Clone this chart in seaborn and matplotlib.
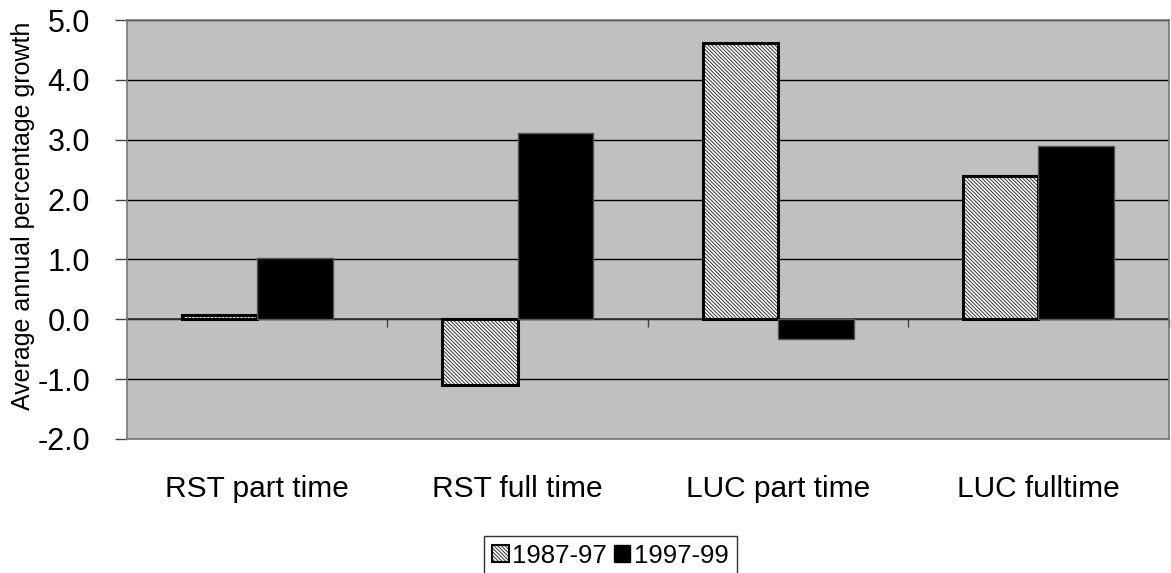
import matplotlib
matplotlib.use("Agg")
import matplotlib.pyplot as plt
from matplotlib.patches import Patch
import seaborn as sns
import pandas as pd

categories = ["RST part time", "RST full time", "LUC part time", "LUC fulltime"]
series_names = ["1987-97", "1997-99"]
values_1987_97 = [0.07, -1.10, 4.61, 2.40]
values_1997_99 = [1.03, 3.11, -0.33, 2.89]
y_ticks = [-2.0, -1.0, 0.0, 1.0, 2.0, 3.0, 4.0, 5.0]

df = pd.DataFrame({
    "category": categories * 2,
    "period": [series_names[0]] * 4 + [series_names[1]] * 4,
    "value": values_1987_97 + values_1997_99,
})

sns.set_style("white")
plt.rcParams["font.family"] = ["Liberation Sans", "DejaVu Sans"]
plt.rcParams["hatch.linewidth"] = 0.5
plt.rcParams["hatch.color"] = "#8c8c8c"
plt.rcParams["text.color"] = "black"
plt.rcParams["xtick.color"] = "black"
plt.rcParams["ytick.color"] = "black"
plt.rcParams["axes.labelcolor"] = "black"

HATCH = "\\" * 9
HATCH_COLOR = "#8c8c8c"
FACE_1 = "#f2f2f2"

fig = plt.figure(figsize=(11.71, 5.73), dpi=100)
ax = fig.add_axes([0.1085, 0.234, 0.8895, 0.731])
ax.set_facecolor("#c0c0c0")

sns.barplot(data=df, x="category", y="value", hue="period", order=categories,
            hue_order=series_names, palette=[FACE_1, "#000000"],
            width=0.58, saturation=1, legend=False, ax=ax, zorder=3)

n = len(categories)
for i, p in enumerate(ax.patches):
    if i < n:
        p.set_hatch(HATCH)
        p.set_edgecolor("#000000")
        p.set_linewidth(2.2)
        try:
            p.set_hatchcolor(HATCH_COLOR)
        except Exception:
            pass
    else:
        p.set_edgecolor("#555555")
        p.set_linewidth(1.0)

ax.set_ylim(-2.0, 5.0)
ax.set_xlim(-0.5, n - 0.5)
ax.set_yticks(y_ticks)
ax.set_yticklabels([f"{v:.1f}" for v in y_ticks], fontsize=22)
ax.yaxis.grid(True, color="black", linewidth=1.0, zorder=1)
ax.set_axisbelow(True)
ax.axhline(0, color="#333333", linewidth=1.2, zorder=2)

ax.tick_params(axis="y", direction="out", length=8.5, width=1, color="#444444", pad=18, left=True)
ax.set_xticks(range(n))
ax.set_xticklabels(categories, fontsize=21.5)
ax.tick_params(axis="x", length=0, pad=26)
ax.set_xlabel("")
ax.set_ylabel("Average annual percentage growth", fontsize=18)
ax.yaxis.set_label_coords(-0.0885, 0.533)

for s in ax.spines.values():
    s.set_color("#777777")
    s.set_linewidth(1.2)

sec = ax.secondary_xaxis(2.0 / 7.0)
sec.set_xticks([i + 0.5 for i in range(n)])
sec.set_xticklabels([])
sec.tick_params(direction="out", length=6, width=1, color="#444444")
sec.spines["bottom"].set_visible(False)

h1 = Patch(facecolor=FACE_1, edgecolor="#000000", hatch=HATCH, linewidth=1.5)
try:
    h1.set_hatchcolor(HATCH_COLOR)
except Exception:
    pass
handles = [h1, Patch(facecolor="#000000", edgecolor="#000000", linewidth=1.0)]
leg = fig.legend(handles, series_names, loc="lower center", bbox_to_anchor=(0.5213, -0.004),
                 ncol=2, fontsize=18.5, frameon=True, fancybox=False, edgecolor="#000000",
                 handlelength=0.65, handleheight=0.65, handletextpad=0.15, columnspacing=0.25,
                 borderpad=0.3, borderaxespad=0)
leg.get_frame().set_linewidth(1.0)

fig.savefig("out.png", dpi=100, facecolor="white")
